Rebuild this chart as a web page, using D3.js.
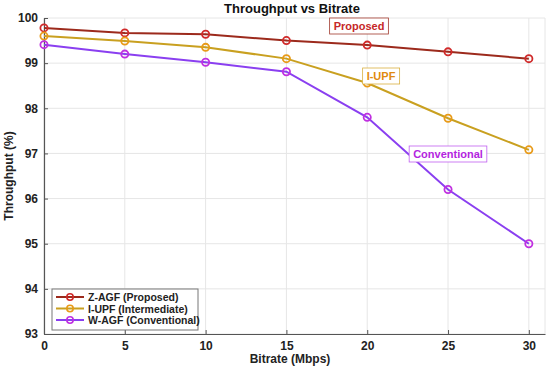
<!DOCTYPE html>
<html><head><meta charset="utf-8">
<script src="https://cdn.jsdelivr.net/npm/d3@7"></script>
<style>
body{margin:0;background:#fff;}
text{font-family:Arial,"Liberation Sans",sans-serif;}
</style></head>
<body><svg id="c" width="550" height="371"></svg>
<script>
const bitrates = [0, 5, 10, 15, 20, 25, 30];
const zagf = [99.78, 99.67, 99.64, 99.50, 99.40, 99.25, 99.10];
const iupf = [99.60, 99.49, 99.35, 99.10, 98.56, 97.78, 97.08];
const wagf = [99.41, 99.20, 99.02, 98.81, 97.80, 96.20, 95.00];
const xTicks = [0, 5, 10, 15, 20, 25, 30];
const yTicks = [93, 94, 95, 96, 97, 98, 99, 100];
const seriesNames = ["Z-AGF (Proposed)", "I-UPF (Intermediate)", "W-AGF (Conventional)"];
const annLabels = ["Proposed", "I-UPF", "Conventional"];

const series = [
  {name: seriesNames[0], vals: zagf, line: "#9c2a1c", mark: "#d02a2a", ann: annLabels[0], annColor: "#c62828", annBorder: "#a0382c", ax: 359, ay: 26},
  {name: seriesNames[1], vals: iupf, line: "#c9a020", mark: "#e89a18", ann: annLabels[1], annColor: "#e08a10", annBorder: "#d9b040", ax: 381, ay: 76},
  {name: seriesNames[2], vals: wagf, line: "#8a3ff0", mark: "#c030e0", ann: annLabels[2], annColor: "#b325e0", annBorder: "#c060f0", ax: 448, ay: 154}
];

const svg = d3.select("#c");
const L = 44, R = 545, T = 18, B = 334;
const x = d3.scaleLinear().domain([0, 31]).range([L, R]);
const y = d3.scaleLinear().domain([93, 100]).range([B, T]);

// grid
svg.append("g").selectAll("line").data(xTicks.concat([31])).join("line")
  .attr("x1", d => x(d)).attr("x2", d => x(d)).attr("y1", T).attr("y2", B)
  .attr("stroke", "#e6e6e6").attr("stroke-width", 1);
svg.append("g").selectAll("line").data(yTicks).join("line")
  .attr("x1", L).attr("x2", R).attr("y1", d => y(d)).attr("y2", d => y(d))
  .attr("stroke", "#e6e6e6").attr("stroke-width", 1);

// axes
const xa = svg.append("g").attr("transform", `translate(0,${B})`)
  .call(d3.axisBottom(x).tickValues(xTicks).tickFormat(d3.format("d")).tickSize(4).tickSizeOuter(0));
const ya = svg.append("g").attr("transform", `translate(${L},0)`)
  .call(d3.axisLeft(y).tickValues(yTicks).tickFormat(d3.format("d")).tickSize(4).tickSizeOuter(0));
[xa, ya].forEach(a => {
  a.select(".domain").attr("stroke", "#555").attr("stroke-width", 1.2);
  a.selectAll(".tick line").attr("stroke", "#555");
  a.selectAll("text").attr("font-size", 12).attr("font-weight", "bold").attr("fill", "#222");
});
xa.selectAll(".tick line").attr("y2", -4);
ya.selectAll(".tick line").attr("x2", 4);
xa.selectAll("text").attr("y", 5).attr("dy", "0.9em");
ya.selectAll("text").attr("x", -6);

// title and labels
svg.append("text").attr("x", 292).attr("y", 13).attr("text-anchor", "middle")
  .attr("font-size", 13).attr("font-weight", "bold").attr("fill", "#111").text("Throughput vs Bitrate");
svg.append("text").attr("x", 290).attr("y", 363).attr("text-anchor", "middle")
  .attr("font-size", 12).attr("font-weight", "bold").attr("fill", "#222").text("Bitrate (Mbps)");
svg.append("text").attr("transform", "translate(13,176) rotate(-90)").attr("text-anchor", "middle")
  .attr("font-size", 12).attr("font-weight", "bold").attr("fill", "#222").text("Throughput (%)");

// lines
const line = d3.line().x((d, i) => x(bitrates[i])).y(d => y(d));
series.forEach(s => {
  svg.append("path").datum(s.vals).attr("d", line).attr("fill", "none")
    .attr("stroke", s.line).attr("stroke-width", 2);
  svg.append("g").selectAll("circle").data(s.vals).join("circle")
    .attr("cx", (d, i) => x(bitrates[i])).attr("cy", d => y(d)).attr("r", 3.6)
    .attr("fill", "none").attr("stroke", s.mark).attr("stroke-width", 1.8);
});

// annotations
series.forEach(s => {
  const g = svg.append("g");
  const t = g.append("text").attr("x", s.ax).attr("y", s.ay).attr("text-anchor", "middle")
    .attr("dominant-baseline", "central").attr("font-size", 11).attr("font-weight", "bold")
    .attr("fill", s.annColor).text(s.ann);
  const bb = t.node().getBBox();
  g.insert("rect", "text").attr("x", bb.x - 4).attr("y", bb.y - 2)
    .attr("width", bb.width + 8).attr("height", bb.height + 4)
    .attr("fill", "#fff").attr("stroke", s.annBorder).attr("stroke-width", 0.8);
});

// legend
const lg = svg.append("g").attr("transform", "translate(52,289)");
lg.append("rect").attr("width", 146).attr("height", 41).attr("fill", "#fff")
  .attr("stroke", "#777").attr("stroke-width", 1);
series.forEach((s, i) => {
  const yy = 8 + i * 11.5;
  lg.append("line").attr("x1", 4).attr("x2", 32).attr("y1", yy).attr("y2", yy)
    .attr("stroke", s.line).attr("stroke-width", 2);
  lg.append("circle").attr("cx", 18).attr("cy", yy).attr("r", 3.2).attr("fill", "none")
    .attr("stroke", s.mark).attr("stroke-width", 1.6);
  lg.append("text").attr("x", 36).attr("y", yy).attr("dominant-baseline", "central")
    .attr("font-size", 10.5).attr("font-weight", "bold").attr("fill", "#222").text(s.name);
});
</script></body></html>
